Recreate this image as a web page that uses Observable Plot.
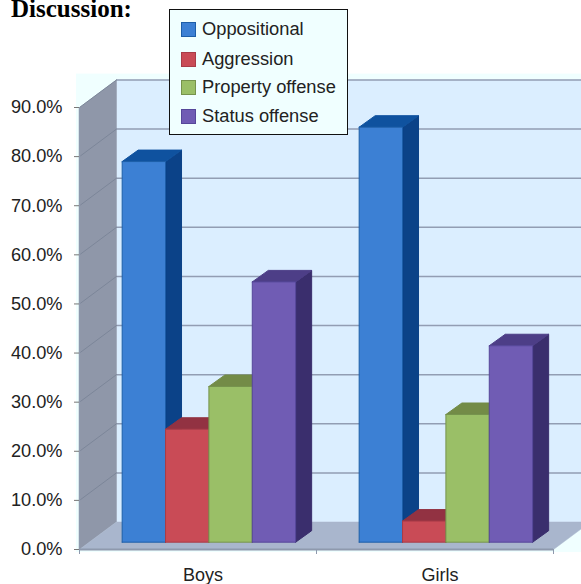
<!DOCTYPE html>
<html>
<head>
<meta charset="utf-8">
<script src="https://cdn.jsdelivr.net/npm/d3@7"></script>
<script src="https://cdn.jsdelivr.net/npm/@observablehq/plot@0.6"></script>
<style>
html,body{margin:0;padding:0;background:#fff;overflow:hidden}
#wrap{position:relative;width:581px;height:584px;font-family:"Liberation Sans",Arial,sans-serif}
#wrap svg{position:absolute;left:0;top:0;background:transparent}
#title{position:absolute;left:11px;top:-5px;font:bold 25px "Liberation Serif","Times New Roman",serif;color:#000;line-height:28px}
#legend{position:absolute;left:169px;top:9px;width:177px;height:124px;border:1.5px solid #111;background:#f0ffff;color:#222;font-size:18.3px}
.row{position:absolute;left:11px;display:flex;align-items:center;white-space:nowrap;height:20px}
.sw{display:inline-block;width:13px;height:13px;border:1.5px solid;margin-right:6px}
</style>
</head>
<body>
<div id="wrap">
  <div id="chart"></div>
  <div id="title">Discussion:</div>
  <div id="legend"></div>
</div>
<script>
const categories = ["Boys", "Girls"];
const seriesNames = ["Oppositional", "Aggression", "Property offense", "Status offense"];
const boysValues = [77.5, 23, 31.7, 53];
const girlsValues = [84.5, 4.3, 26, 40];
const yTicks = [0, 10, 20, 30, 40, 50, 60, 70, 80, 90];

const frontColors = ["#3c80d4", "#c94b56", "#9abf67", "#705cb4"];
const edgeColors  = ["#1d5ea8", "#a83c48", "#76934d", "#56479a"];
const sideColors  = ["#0b4288", "#8d3140", "#738b47", "#3a2e6d"];
const topColors   = ["#0f529f", "#923242", "#738b47", "#4d3e87"];

// projection of the depth axis, in data units
const wallDx = 0.156, wallDy = 5.6;
const barDx = 0.0675, barDy = 2.34;
const baseDx = 0.046, baseDy = 1.49;
const barW = 0.183;

const polys = [];
function poly(id, pts, fill, stroke) {
  [...pts, pts[0]].forEach(([x, y]) => polys.push({id, x, y, fill, stroke}));
}
[boysValues, girlsValues].forEach((vals, c) => {
  const cx = c + 0.5 + baseDx;
  vals.forEach((v, s) => {
    const x0 = cx + (s - 2) * barW, x1 = x0 + barW, y0 = baseDy, y1 = baseDy + v;
    poly(`${c}-${s}-side`, [[x1,y0],[x1+barDx,y0+barDy],[x1+barDx,y1+barDy],[x1,y1]], sideColors[s], sideColors[s]);
    poly(`${c}-${s}-top`, [[x0,y1],[x1,y1],[x1+barDx,y1+barDy],[x0+barDx,y1+barDy]], topColors[s], topColors[s]);
    poly(`${c}-${s}-front`, [[x0,y0],[x1,y0],[x1,y1],[x0,y1]], frontColors[s], edgeColors[s]);
  });
});

const xMax = 2;
const yMax = 90;
const wallPolys = [];
function wall(id, pts, fill) {
  [...pts, pts[0]].forEach(([x, y]) => wallPolys.push({id, x, y, fill}));
}
wall("back", [[wallDx,wallDy],[xMax+wallDx,wallDy],[xMax+wallDx,yMax+wallDy],[wallDx,yMax+wallDy]], "#dbeeff");
wall("left", [[0,0],[wallDx,wallDy],[wallDx,yMax+wallDy],[0,yMax]], "#8f97a9");
wall("floor", [[0,0],[xMax,0],[xMax+wallDx,wallDy],[wallDx,wallDy]], "#a9b6cd");

const gridTicks = yTicks.slice(1);
const leftGrid = gridTicks.flatMap(t => [{t, x: 0, y: t}, {t, x: wallDx, y: t + wallDy}]);

const chart = Plot.plot({
  width: 581,
  height: 584,
  marginLeft: 79,
  marginRight: 28,
  marginTop: 107,
  marginBottom: 35,
  x: {domain: [0, xMax], axis: null},
  y: {domain: [0, yMax], axis: null},
  style: {fontFamily: '"Liberation Sans",Arial,sans-serif', background: "transparent", overflow: "visible"},
  marks: [
    Plot.rect([{}], {x1: () => -0.0127, x2: () => 2.3, y1: () => -0.6, y2: () => 96.8, fill: "#f0ffff"}),
    Plot.line(wallPolys, {x: "x", y: "y", z: "id", fill: "fill", stroke: "fill", strokeWidth: 0.5}),
    Plot.ruleY(gridTicks, {y: d => d + wallDy, x1: () => wallDx, x2: () => xMax + wallDx, stroke: "#929db3", strokeWidth: 1.5}),
    Plot.line(leftGrid, {x: "x", y: "y", z: "t", stroke: "#7c8699", strokeWidth: 1}),
    Plot.line(polys, {x: "x", y: "y", z: "id", fill: "fill", stroke: "stroke", strokeWidth: 1}),
    Plot.ruleX([0], {y1: () => 0, y2: () => yMax, stroke: "#8e99ad", strokeWidth: 1.5}),
    Plot.ruleY([0], {x1: () => 0, x2: () => xMax, stroke: "#8e99ad", strokeWidth: 2}),
    Plot.axisY({ticks: yTicks, tickFormat: d => d.toFixed(1) + "%", tickSize: 5, tickPadding: 12, fontSize: 18.2, stroke: "#777", color: "#222", label: null, anchor: "left"}),
    Plot.axisX({ticks: [0, 1, 2], tickFormat: () => "", tickSize: 5, stroke: "#8e99ad", label: null, anchor: "bottom"}),
    Plot.text(categories, {x: (d, i) => i + 0.5, y: () => 0, text: d => d, dy: 26, dx: 5, fontSize: 18, fill: "#222"})
  ]
});
document.getElementById("chart").appendChild(chart);

const legend = document.getElementById("legend");
const legendTops = [9, 39, 67, 96];
seriesNames.forEach((name, i) => {
  const row = document.createElement("div");
  row.className = "row";
  row.style.top = legendTops[i] + "px";
  row.innerHTML = `<span class="sw" style="background:${frontColors[i]};border-color:${edgeColors[i]}"></span><span>${name}</span>`;
  legend.appendChild(row);
});
</script>
</body>
</html>
